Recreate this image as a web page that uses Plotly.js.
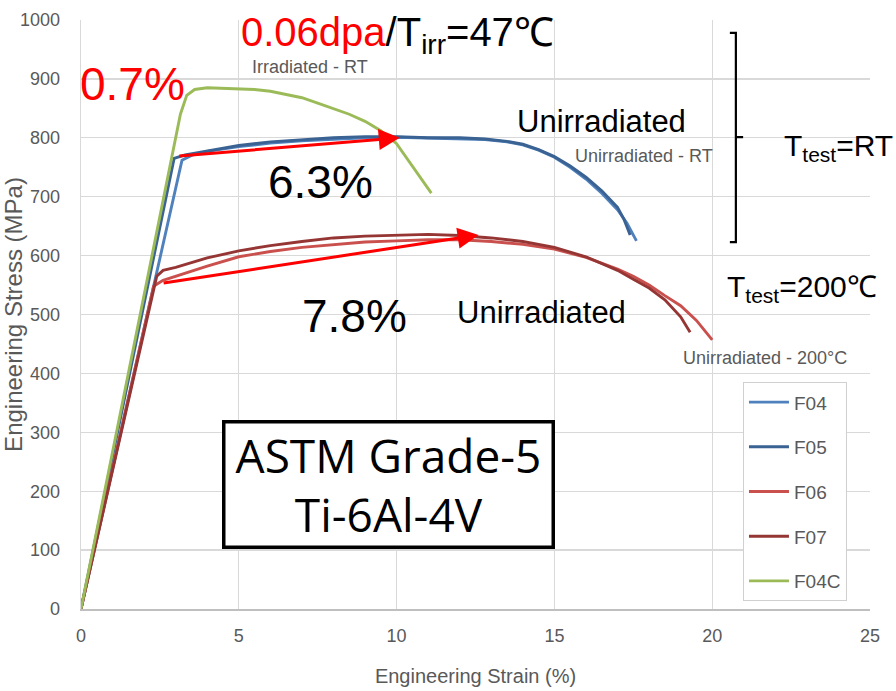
<!DOCTYPE html>
<html>
<head>
<meta charset="utf-8">
<script src="https://cdn.plot.ly/plotly-3.0.1.min.js"></script>
<style>html,body{margin:0;padding:0;background:#fff;}#chart{width:896px;height:691px;}</style>
</head>
<body>
<div id="chart"></div>
<script>
// ---- data ----
const seriesNames = ["F04", "F05", "F06", "F07", "F04C"];
const strainF04 = [0, 3.2, 3.5, 4, 5, 6, 7, 8, 9, 10, 11, 12, 12.8, 13.5, 14, 14.5, 15, 15.5, 16, 16.5, 17, 17.3, 17.6];
const stressF04 = [0, 762, 770, 777, 785, 791, 795, 798, 800, 801, 800, 799, 797, 793, 788, 779, 767, 750, 730, 706, 678, 655, 625];
const strainF05 = [0, 2.95, 3.3, 4, 5, 6, 7, 8, 9, 10, 11, 12, 12.8, 13.5, 14, 14.5, 15, 15.5, 16, 16.5, 17, 17.2, 17.4];
const stressF05 = [0, 765, 771, 778, 787, 793, 797, 800, 802, 802, 800, 800, 798, 794, 789, 780, 768, 752, 733, 710, 682, 662, 635];
const strainF06 = [0, 2.3, 2.6, 3, 4, 5, 6, 7, 8, 9, 10, 11, 12, 13, 14, 15, 16, 17, 17.5, 18, 18.5, 19, 19.5, 20];
const stressF06 = [0, 548, 558, 565, 582, 598, 607, 614, 619, 623, 625, 627, 627, 624, 619, 611, 597, 577, 565, 550, 532, 515, 490, 457];
const strainF07 = [0, 2.4, 2.6, 3, 3.5, 4, 5, 6, 7, 8, 9, 10, 11, 12, 13, 14, 15, 16, 17, 17.5, 18, 18.5, 19, 19.3];
const stressF07 = [0, 565, 575, 580, 588, 596, 608, 617, 624, 630, 633, 635, 636, 634, 630, 624, 614, 598, 575, 560, 545, 525, 496, 470];
const strainF04C = [0, 2.9, 3.15, 3.35, 3.6, 4, 4.5, 5, 5.5, 6, 6.5, 7, 7.5, 8, 8.5, 9, 9.5, 10, 10.5, 11.1];
const stressF04C = [0, 770, 840, 872, 882, 885, 884, 883, 882, 879, 874, 868, 859, 850, 840, 828, 812, 790, 752, 706];
const xTickVals = [0, 5, 10, 15, 20, 25];
const yTickVals = [0, 100, 200, 300, 400, 500, 600, 700, 800, 900, 1000];

const colors = ["#4f81bd", "#3a6293", "#c9504d", "#963634", "#9bbb59"];
const xs = [strainF04, strainF05, strainF06, strainF07, strainF04C];
const ys = [stressF04, stressF05, stressF06, stressF07, stressF04C];

const arial = "Liberation Sans, Arial, sans-serif";

const traces = seriesNames.map((n, i) => ({
  x: xs[i], y: ys[i], name: n, type: "scatter", mode: "lines",
  legendgroup: "g" + i,
  line: {color: colors[i], width: 2.9}
}));

const annotations = [
  {x: 5.0, y: 975, xref: "x", yref: "y", xanchor: "left", yanchor: "middle", showarrow: false,
   text: '<span style="color:#ff0000">0.06dpa</span>/T<sub>irr</sub>=47℃', font: {family: arial, size: 40, color: "#000"}},
  {x: 1.62, y: 891, xref: "x", yref: "y", showarrow: false, text: "0.7%", font: {family: arial, size: 46, color: "#ff0000"}},
  {x: 7.26, y: 920, xref: "x", yref: "y", showarrow: false, text: "Irradiated - RT", font: {family: arial, size: 18, color: "#595959"}},
  {x: 16.5, y: 828, xref: "x", yref: "y", showarrow: false, text: "Unirradiated", font: {family: arial, size: 31, color: "#000"}},
  {x: 17.85, y: 769, xref: "x", yref: "y", showarrow: false, text: "Unirradiated - RT", font: {family: arial, size: 18, color: "#595959"}},
  {x: 7.6, y: 725, xref: "x", yref: "y", showarrow: false, text: "6.3%", font: {family: arial, size: 46, color: "#000"}},
  {x: 22.2, y: 783, xref: "x", yref: "y", xanchor: "left", showarrow: false, text: "T<sub>test</sub>=RT", font: {family: arial, size: 30, color: "#000"}},
  {x: 20.4, y: 545, xref: "x", yref: "y", xanchor: "left", showarrow: false, text: "T<sub>test</sub>=200℃", font: {family: arial, size: 30, color: "#000"}},
  {x: 8.68, y: 497, xref: "x", yref: "y", showarrow: false, text: "7.8%", font: {family: arial, size: 46, color: "#000"}},
  {x: 14.58, y: 504, xref: "x", yref: "y", showarrow: false, text: "Unirradiated", font: {family: arial, size: 31, color: "#000"}},
  {x: 21.67, y: 426, xref: "x", yref: "y", showarrow: false, text: "Unirradiated - 200°C", font: {family: arial, size: 18, color: "#595959"}},
  {x: 9.74, y: 212, xref: "x", yref: "y", showarrow: false, text: "ASTM Grade-5<br>Ti-6Al-4V",
   font: {family: "Open Sans, Noto Sans, sans-serif", size: 46, color: "#000"},
   bordercolor: "#000", borderwidth: 3.5, borderpad: 0, bgcolor: "#fff", width: 326, height: 122},
  // red arrows
  {x: 10.1, y: 800, ax: 3.07, ay: 769, xref: "x", yref: "y", axref: "x", ayref: "y", text: "", showarrow: true,
   arrowcolor: "#ff0000", arrowwidth: 3, arrowhead: 2, arrowsize: 1.4, standoff: 0},
  {x: 12.6, y: 635, ax: 2.57, ay: 553, xref: "x", yref: "y", axref: "x", ayref: "y", text: "", showarrow: true,
   arrowcolor: "#ff0000", arrowwidth: 3, arrowhead: 2, arrowsize: 1.4, standoff: 0}
];

const shapes = [
  {type: "path", xref: "x", yref: "y", path: "M20.56,978 L20.75,978 L20.75,623 L20.56,623 M20.75,801 L20.98,801",
   line: {color: "#000", width: 2.2}}
];

const layout = {
  width: 896, height: 691,
  margin: {l: 81, r: 26, t: 20, b: 82},
  paper_bgcolor: "#fff", plot_bgcolor: "#fff",
  showlegend: true,
  legend: {x: 0.839, y: 0.385, xanchor: "left", yanchor: "top", bgcolor: "#fff",
           bordercolor: "#d0d0d0", borderwidth: 1, font: {family: arial, size: 19, color: "#595959"},
           tracegroupgap: 17, itemwidth: 40},
  xaxis: {range: [0, 25], tickvals: xTickVals, showgrid: true, gridcolor: "#d9d9d9", gridwidth: 1.3,
          zeroline: false, showline: true, linecolor: "#bfbfbf", linewidth: 1.5, ticks: "",
          ticklabelstandoff: 10, tickfont: {family: arial, size: 18, color: "#595959"},
          title: {text: "Engineering Strain (%)", standoff: 24, font: {family: arial, size: 20, color: "#595959"}},
          automargin: false},
  yaxis: {range: [0, 1000], tickvals: yTickVals, showgrid: true, gridcolor: "#d9d9d9", gridwidth: 1.3,
          zeroline: false, showline: true, linecolor: "#d9d9d9", linewidth: 1.3, ticks: "",
          ticklabelstandoff: 16, tickfont: {family: arial, size: 18, color: "#595959"},
          title: {text: "Engineering Stress (MPa)", standoff: 0, font: {family: arial, size: 24, color: "#595959"}},
          automargin: false},
  annotations: annotations,
  shapes: shapes
};

Plotly.newPlot("chart", traces, layout, {displayModeBar: false, staticPlot: true});
</script>
</body>
</html>
